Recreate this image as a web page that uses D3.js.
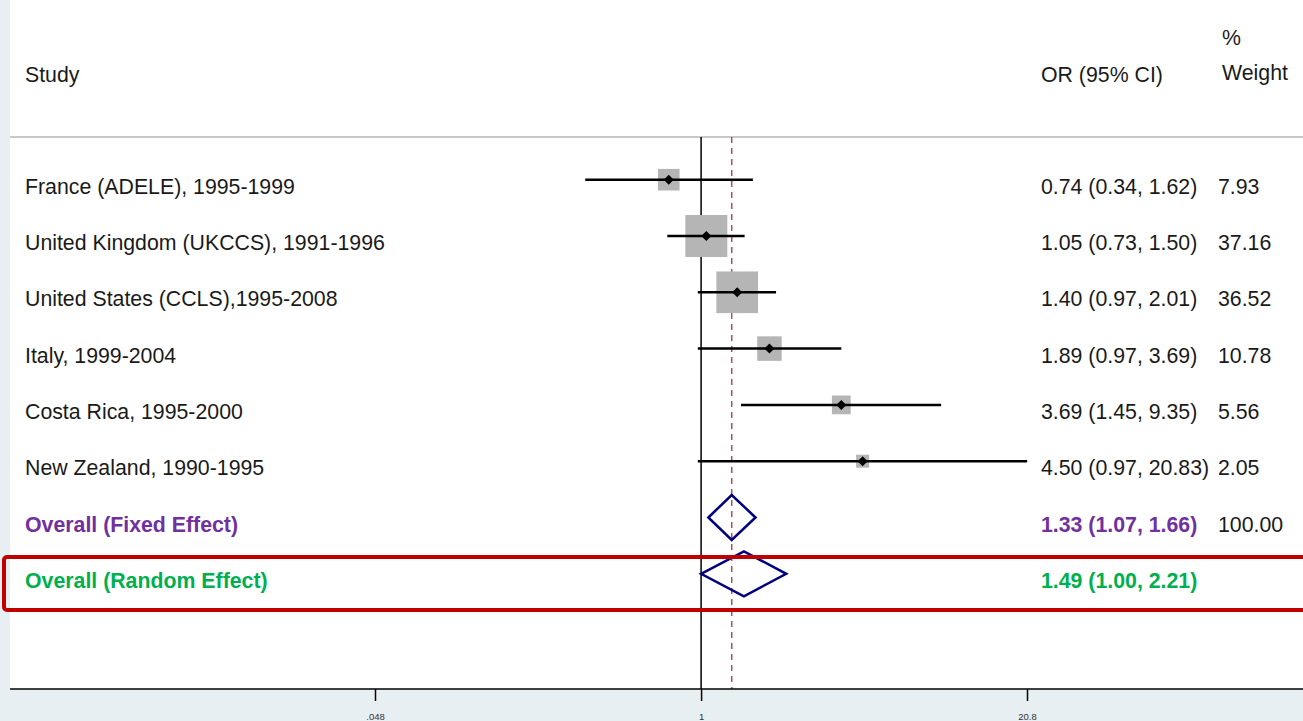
<!DOCTYPE html>
<meta charset="utf-8">
<style>
  body { margin: 0; background: #e8eff2; }
  svg { display: block; font-family: Arial, "Liberation Sans", sans-serif; }
  .lbl { font-size: 21.3px; fill: #1a1a1a; }
  .axis text { font-size: 9.5px; fill: #333; }
</style>
<body></body>
<script src="https://cdn.jsdelivr.net/npm/d3@7"></script>
<script>

// data
var studies = ["France (ADELE), 1995-1999", "United Kingdom (UKCCS), 1991-1996",
  "United States (CCLS),1995-2008", "Italy, 1999-2004", "Costa Rica, 1995-2000",
  "New Zealand, 1990-1995"];
var or  = [0.74, 1.05, 1.40, 1.89, 3.69, 4.50];
var lo  = [0.34, 0.73, 0.97, 0.97, 1.45, 0.97];
var hi  = [1.62, 1.50, 2.01, 3.69, 9.35, 20.83];
var weights = [7.93, 37.16, 36.52, 10.78, 5.56, 2.05];
var ciText = ["0.74 (0.34, 1.62)", "1.05 (0.73, 1.50)", "1.40 (0.97, 2.01)",
  "1.89 (0.97, 3.69)", "3.69 (1.45, 9.35)", "4.50 (0.97, 20.83)"];
var weightText = ["7.93", "37.16", "36.52", "10.78", "5.56", "2.05"];

var pooledNames = ["Overall (Fixed Effect)", "Overall (Random Effect)"];
var pooledOr = [1.33, 1.49];
var pooledLo = [1.07, 1.00];
var pooledHi = [1.66, 2.21];
var pooledText = ["1.33 (1.07, 1.66)", "1.49 (1.00, 2.21)"];
var pooledWeight = ["100.00", ""];

var tickVals = [0.048, 1, 20.8];
var tickLabels = [".048", "1", "20.8"];

var W = 1303, H = 721;
var svg = d3.select("body").append("svg").attr("width", W).attr("height", H);

var axisY = 689;

var x = d3.scaleLog().domain([0.048, 20.8]).range([375, 1027]);
var y = d3.scaleLinear().domain([0, 7]).range([179.7, 573.8]);
var side = d3.scaleLinear().domain([Math.sqrt(2.05), Math.sqrt(37.16)]).range([13, 42]);

// white plot panel
svg.append("rect").attr("x", 10).attr("y", 0).attr("width", W - 10).attr("height", axisY)
  .attr("fill", "#fff");

// header
svg.append("text").attr("class", "lbl").attr("x", 25).attr("y", 82).text("Study");
svg.append("text").attr("class", "lbl").attr("x", 1041).attr("y", 82).text("OR (95% CI)");
svg.append("text").attr("class", "lbl").attr("x", 1222).attr("y", 80).text("Weight");
svg.append("text").attr("class", "lbl").attr("x", 1222).attr("y", 45).text("%");

svg.append("line").attr("x1", 10).attr("x2", W).attr("y1", 137).attr("y2", 137)
  .attr("stroke", "#c8c8c8").attr("stroke-width", 2);

// reference lines
svg.append("line").attr("x1", x(1)).attr("x2", x(1)).attr("y1", 137).attr("y2", axisY)
  .attr("stroke", "#000").attr("stroke-width", 1.5);
svg.append("line").attr("x1", x(pooledOr[0])).attr("x2", x(pooledOr[0]))
  .attr("y1", 137).attr("y2", axisY)
  .attr("stroke", "#a8505a").attr("stroke-width", 1.5).attr("stroke-dasharray", "6,5");

// studies
var rows = svg.append("g").selectAll("g").data(studies).join("g");

rows.append("rect")
  .attr("x", function (d, i) { return x(or[i]) - side(Math.sqrt(weights[i])) / 2; })
  .attr("y", function (d, i) { return y(i) - side(Math.sqrt(weights[i])) / 2; })
  .attr("width", function (d, i) { return side(Math.sqrt(weights[i])); })
  .attr("height", function (d, i) { return side(Math.sqrt(weights[i])); })
  .attr("fill", "#b5b5b5");

rows.append("line")
  .attr("x1", function (d, i) { return x(lo[i]); })
  .attr("x2", function (d, i) { return x(hi[i]); })
  .attr("y1", function (d, i) { return y(i); })
  .attr("y2", function (d, i) { return y(i); })
  .attr("stroke", "#000").attr("stroke-width", 2.5);

rows.append("path")
  .attr("d", function (d, i) {
    var cx = x(or[i]), cy = y(i), r = 5;
    return "M" + (cx - r) + "," + cy + "L" + cx + "," + (cy - r) + "L" + (cx + r) + "," + cy +
      "L" + cx + "," + (cy + r) + "Z";
  })
  .attr("fill", "#000");

rows.append("text").attr("class", "lbl").attr("x", 25)
  .attr("y", function (d, i) { return y(i) + 14; }).text(function (d) { return d; });
rows.append("text").attr("class", "lbl").attr("x", 1041)
  .attr("y", function (d, i) { return y(i) + 14; }).text(function (d, i) { return ciText[i]; });
rows.append("text").attr("class", "lbl").attr("x", 1218)
  .attr("y", function (d, i) { return y(i) + 14; }).text(function (d, i) { return weightText[i]; });

// pooled
var pooledColors = ["#7030a0", "#00b050"];
var pooled = svg.append("g").selectAll("g").data(pooledNames).join("g");

pooled.append("path")
  .attr("d", function (d, i) {
    var cy = y(i + 6), h = 22.5;
    return "M" + x(pooledLo[i]) + "," + cy + "L" + x(pooledOr[i]) + "," + (cy - h) +
      "L" + x(pooledHi[i]) + "," + cy + "L" + x(pooledOr[i]) + "," + (cy + h) + "Z";
  })
  .attr("fill", "none").attr("stroke", "#000080").attr("stroke-width", 2.5);

pooled.append("text").attr("class", "lbl").attr("x", 25)
  .attr("y", function (d, i) { return y(i + 6) + 14; })
  .attr("font-weight", "bold")
  .style("fill", function (d, i) { return pooledColors[i]; })
  .text(function (d) { return d; });
pooled.append("text").attr("class", "lbl").attr("x", 1041)
  .attr("y", function (d, i) { return y(i + 6) + 14; })
  .attr("font-weight", "bold")
  .style("fill", function (d, i) { return pooledColors[i]; })
  .text(function (d, i) { return pooledText[i]; });
pooled.append("text").attr("class", "lbl").attr("x", 1218)
  .attr("y", function (d, i) { return y(i + 6) + 14; })
  .text(function (d, i) { return pooledWeight[i]; });

// highlight box around random effect row
svg.append("rect").attr("x", 4).attr("y", 557).attr("width", W + 20).attr("height", 53)
  .attr("rx", 3).attr("fill", "none").attr("stroke", "#c00000").attr("stroke-width", 4);

// axis
var xAxis = d3.axisBottom(x).tickValues(tickVals)
  .tickFormat(function (d, i) { return tickLabels[i]; })
  .tickSize(12).tickSizeOuter(0).tickPadding(12);

var ax = svg.append("g").attr("class", "axis").attr("transform", "translate(0," + axisY + ")")
  .call(xAxis);
ax.select(".domain").remove();
ax.selectAll(".tick line").attr("stroke-width", 1.5);
svg.append("line").attr("x1", 10).attr("x2", W).attr("y1", axisY).attr("y2", axisY)
  .attr("stroke", "#000").attr("stroke-width", 1.5);

</script>
